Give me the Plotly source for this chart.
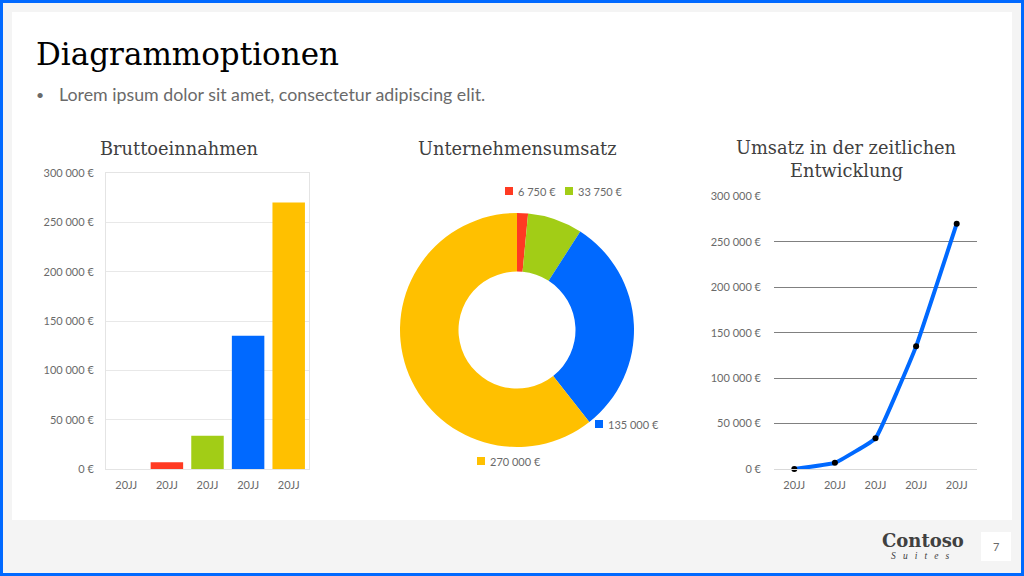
import plotly.graph_objects as go

years = ["20JJ", "20JJ", "20JJ", "20JJ", "20JJ"]
positions = [1, 2, 3, 4, 5]
revenue = [0, 6750, 33750, 135000, 270000]
bar_colors = ["#a5a5a5", "#ff3a22", "#a2cd16", "#0069ff", "#ffc000"]
pie_values = [6750, 33750, 135000, 270000]
pie_labels = ["6 750 €", "33 750 €", "135 000 €", "270 000 €"]
pie_colors = ["#ff3a22", "#a2cd16", "#0069ff", "#ffc000"]
y_ticks = [0, 50000, 100000, 150000, 200000, 250000, 300000]
y_tick_labels = ["0 €", "50 000 €", "100 000 €", "150 000 €", "200 000 €", "250 000 €", "300 000 €"]

W, H = 1024, 576
PAPER_TOP, PAPER_H = 7, 563  # vertical band of the page that the paper area occupies
SLAB = "DejaVu Serif, serif"
SANS = "Lato, sans-serif"
GREY = "#6a6a6a"


def dx(px):
    return px / W


def dy(px):
    return 1 - (px - PAPER_TOP) / PAPER_H


fig = go.Figure()

fig.add_trace(go.Bar(x=positions, y=revenue, marker=dict(color=bar_colors, line_width=0),
                     width=0.8, xaxis="x", yaxis="y", showlegend=False))
fig.add_trace(go.Pie(values=pie_values, labels=pie_labels, marker=dict(colors=pie_colors, line_width=0),
                     hole=0.5, sort=False, direction="clockwise", rotation=0, textinfo="none",
                     domain=dict(x=[dx(400), dx(634)], y=[dy(447), dy(213)]), showlegend=False))
fig.add_trace(go.Scatter(x=positions, y=revenue, mode="lines+markers", cliponaxis=False,
                         line=dict(color="#0069ff", width=4, shape="spline", smoothing=0.25),
                         marker=dict(color="#000000", size=6), xaxis="x2", yaxis="y2", showlegend=False))

tick_font = dict(family=SANS, size=11, color=GREY)
common_y = dict(tickvals=y_ticks, ticktext=y_tick_labels,
                tickfont=tick_font, ticks="", zeroline=False)
common_x = dict(range=[0.5, 5.5], tickvals=positions, ticktext=years, tickfont=tick_font,
                ticks="", showgrid=False, zeroline=False, ticklabelstandoff=6)

layout = dict(
    width=W, height=H, autosize=False, margin=dict(l=0, r=0, t=0, b=0),
    paper_bgcolor="#ffffff", plot_bgcolor="rgba(0,0,0,0)",
    xaxis=dict(domain=[dx(106), dx(309)], anchor="y", showline=True, linecolor="#e4e4e4",
               mirror=True, **common_x),
    yaxis=dict(domain=[dy(469), dy(173)], anchor="x", range=[0, 300000], showgrid=True, gridcolor="#e8e8e8",
               showline=True, linecolor="#e4e4e4", mirror=True, ticklabelstandoff=9, **common_y),
    xaxis2=dict(domain=[dx(774), dx(977)], anchor="y2", showline=True, linecolor="#d9d9d9", **common_x),
    yaxis2=dict(domain=[dy(469), dy(196)], anchor="x2", range=[0, 300500], showgrid=True, gridcolor="#808080",
                gridwidth=1, showline=False, ticklabelstandoff=12, **common_y),
)
fig.update_layout(**layout)


def rect(x0, y0, x1, y1, color):
    fig.add_shape(type="rect", xref="paper", yref="paper", x0=dx(x0), x1=dx(x1), y0=dy(y1), y1=dy(y0),
                  fillcolor=color, line_width=0, layer="below")


rect(0, 0, W, H, "#0069ff")
rect(3, 3, W - 3, H - 3, "#f4f4f4")
rect(12, 12, W - 12, 520, "#ffffff")
rect(981, 532, 1011, 561, "#ffffff")


def label(x, y, text, size, color=GREY, family=SANS, anchor="center"):
    fig.add_annotation(xref="paper", yref="paper", x=dx(x), y=dy(y), text=text, showarrow=False,
                       xanchor=anchor, yanchor="middle", align="center", borderpad=0, borderwidth=0,
                       font=dict(family=family, size=size, color=color))


label(36, 54, "Diagrammoptionen", 31, "#000000", SLAB, "left")
label(36, 94, "•", 14, GREY, SANS, "left")
label(59, 94, "Lorem ipsum dolor sit amet, consectetur adipiscing elit.", 17.8, GREY, SANS, "left")
label(179, 148, "Bruttoeinnahmen", 17.8, "#404040", SLAB)
label(517, 148, "Unternehmensumsatz", 17.8, "#404040", SLAB)
label(846, 147, "Umsatz in der zeitlichen", 17.8, "#404040", SLAB)
label(846, 171, "Entwicklung", 17.8, "#404040", SLAB)

legend_pos = [(505, 191), (565, 191), (595, 424), (477, 461)]
for (x, y), name, color in zip(legend_pos, pie_labels, pie_colors):
    fig.add_shape(type="rect", xref="paper", yref="paper", x0=dx(x), x1=dx(x + 8), y0=dy(y + 4), y1=dy(y - 4),
                  fillcolor=color, line_width=0)
    label(x + 13, y, name, 11, GREY, SANS, "left")

label(923, 540, "<b>Contoso</b>", 18, "#404040", SLAB)
label(920, 556, "<i>S   u   i   t   e   s</i>", 9.5, "#404040", "Liberation Serif, serif")
label(996, 546, "7", 11, GREY)

fig.write_html("out.html", config={"displayModeBar": False},
               post_script="document.documentElement.style.margin='0';document.body.style.margin='0';"
                           "document.body.style.overflow='hidden';")
